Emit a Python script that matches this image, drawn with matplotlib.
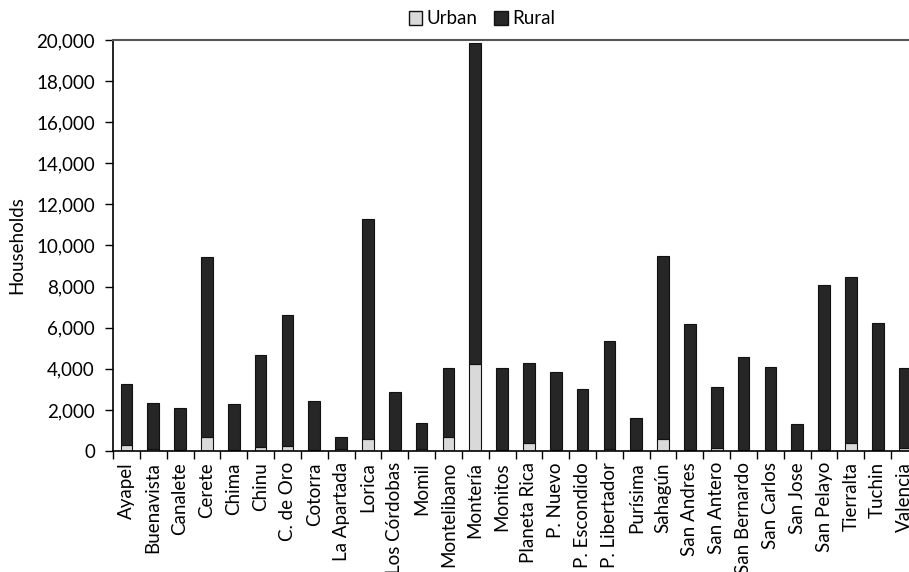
import matplotlib
matplotlib.use("Agg")
import matplotlib.pyplot as plt
from matplotlib.ticker import FuncFormatter, MultipleLocator
from matplotlib.patches import Patch

categories = ["Ayapel", "Buenavista", "Canalete", "Cerete", "Chima", "Chinu", "C. de Oro",
              "Cotorra", "La Apartada", "Lorica", "Los Córdobas", "Momil", "Montelibano",
              "Montería", "Monitos", "Planeta Rica", "P. Nuevo", "P. Escondido",
              "P. Libertador", "Purísima", "Sahagún", "San Andres", "San Antero",
              "San Bernardo", "San Carlos", "San Jose", "San Pelayo", "Tierralta",
              "Tuchin", "Valencia"]
totals = [3260, 2350, 2080, 9450, 2270, 4680, 6600, 2430, 700, 11300,
          2890, 1380, 4050, 19850, 4050, 4280, 3850, 3030, 5330, 1590,
          9510, 6160, 3130, 4570, 4110, 1330, 8100, 8450, 6240, 4030]
urban = [300, 100, 30, 680, 30, 210, 260, 30, 120, 600,
         20, 100, 700, 4230, 30, 410, 60, 20, 110, 30,
         600, 30, 160, 30, 20, 20, 30, 410, 30, 140]
rural = [t - u for t, u in zip(totals, urban)]

plt.rcParams['font.family'] = ['Lato', 'DejaVu Sans']
FS = 13.5

fig = plt.figure(figsize=(9.09, 5.72), dpi=100)
ax = fig.add_axes([113 / 909, 121 / 572, 805 / 909, 411 / 572])

x = list(range(len(categories)))
w = 0.44
ax.bar(x, urban, width=w, color="#d9d9d9", edgecolor="#111111", linewidth=0.8, label="Urban")
ax.bar(x, rural, width=w, bottom=urban, color="#262626", edgecolor="#111111", linewidth=0.8, label="Rural")

ax.set_xlim(-0.5, len(categories) - 0.5)
ax.set_ylim(0, 20000)
ax.yaxis.set_major_locator(MultipleLocator(2000))
ax.yaxis.set_major_formatter(FuncFormatter(lambda v, p: f"{int(v):,}"))
ax.set_ylabel("Households", fontsize=FS, labelpad=8)

ax.set_xticks(x)
ax.set_xticklabels(categories, rotation=90, fontsize=FS, va="top", ha="center")
ax.tick_params(axis="x", length=0, pad=8)
ax.set_xticks([i - 0.5 for i in range(len(categories) + 1)], minor=True)
ax.tick_params(axis="x", which="minor", length=6, width=1, direction="out")
ax.tick_params(axis="y", length=6, width=1, direction="out", labelsize=FS, pad=7)

for s in ["left", "bottom"]:
    ax.spines[s].set_linewidth(1.2)
    ax.spines[s].set_color("black")
ax.spines["top"].set_color("#555555")
ax.spines["top"].set_linewidth(1.5)
ax.spines["right"].set_visible(False)

handles = [Patch(facecolor="#d9d9d9", edgecolor="#111111", label="Urban"),
           Patch(facecolor="#262626", edgecolor="#111111", label="Rural")]
fig.legend(handles=handles, loc="center", bbox_to_anchor=(482 / 909, 1 - 19 / 572),
           ncol=2, frameon=False, fontsize=FS, handlelength=0.7, handleheight=0.7,
           handletextpad=0.25, columnspacing=0.9)

fig.savefig("out.png", dpi=100)
